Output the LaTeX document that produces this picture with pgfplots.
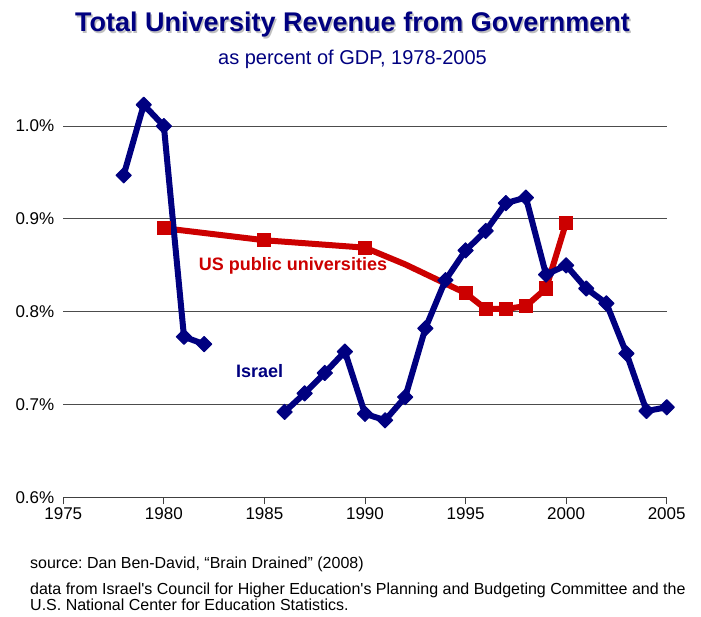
\documentclass[border=0pt]{standalone}
\usepackage{fontspec}
\setmainfont{Liberation Sans}
\usepackage{pgfplots}
\usepackage{pgfplotstable}
\pgfplotsset{compat=1.18}
\frenchspacing
\definecolor{navyb}{RGB}{0,0,128}
\definecolor{usred}{RGB}{204,0,0}
\pgfplotstableread{
year val
1978 0.947
1979 1.023
1980 1.000
1981 0.773
1982 0.765
1983 nan
1986 0.692
1987 0.712
1988 0.734
1989 0.757
1990 0.690
1991 0.683
1992 0.708
1993 0.782
1994 0.834
1995 0.866
1996 0.887
1997 0.917
1998 0.923
1999 0.840
2000 0.850
2001 0.825
2002 0.809
2003 0.755
2004 0.693
2005 0.697
}\israel
\pgfplotstableread{
year val
1980 0.890
1985 0.877
1990 0.869
1992 0.851
1995 0.820
1996 0.803
1997 0.803
1998 0.806
1999 0.825
2000 0.896
}\usline
\pgfplotstableread{
year val
1980 0.890
1985 0.877
1990 0.869
1995 0.820
1996 0.803
1997 0.803
1998 0.806
1999 0.825
2000 0.896
}\usmarks
\begin{document}
\begin{tikzpicture}
\path (-63.3pt,-118.7pt) rectangle (637.7pt,497.3pt);
\begin{axis}[
  at={(0pt,0pt)}, anchor=south west,
  scale only axis, width=603.4pt, height=417.6pt,
  xmin=1975, xmax=2005, ymin=0.6, ymax=1.05,
  clip=false,
  axis x line=bottom, axis y line=left,
  x axis line style={-, line width=1pt, black!75},
  y axis line style={draw=none},
  xtick={1975,1980,1985,1990,1995,2000,2005},
  xticklabels={1975,1980,1985,1990,1995,2000,2005},
  ytick={0.6,0.7,0.8,0.9,1.0},
  yticklabels={0.6\%,0.7\%,0.8\%,0.9\%,1.0\%},
  xtick align=outside,
  major tick length=7pt,
  xtick style={line width=1pt, black!75},
  ytick style={draw=none},
  ymajorgrids,
  major grid style={line width=1pt, black!70},
  tick label style={font=\fontsize{17}{17}\selectfont},
  yticklabel style={xshift=-2pt},
  unbounded coords=jump,
]
\addplot[usred, line width=6pt, line join=round] table[x=year,y=val]{\usline};
\addplot[usred, only marks, mark=square*, mark size=6.5pt, mark options={line width=1pt}] table[x=year,y=val]{\usmarks};
\addplot[navyb, line width=6pt, line join=round, mark=square*, mark size=5.4pt, mark options={line width=1pt, rotate=45}] table[x=year,y=val]{\israel};
\end{axis}
\node[anchor=base, inner sep=0, text=black!25] at (290.7pt,464.1pt) {\fontsize{27}{27}\selectfont\bfseries Total University Revenue from Government};
\node[anchor=base, inner sep=0, text=navyb] at (289.2pt,465.6pt) {\fontsize{27}{27}\selectfont\bfseries Total University Revenue from Government};
\node[anchor=base, inner sep=0, text=navyb] at (289.2pt,432.3pt) {\fontsize{20}{20}\selectfont as percent of GDP, 1978-2005};
\node[anchor=base, inner sep=0, text=usred] at (229.7pt,226.6pt) {\fontsize{18}{18}\selectfont\bfseries US public universities};
\node[anchor=base, inner sep=0, text=navyb] at (196.4pt,120pt) {\fontsize{18}{18}\selectfont\bfseries Israel};
\node[anchor=base west, inner sep=0] at (-33.3pt,-71pt) {\fontsize{16}{16}\selectfont source: Dan Ben-David, “Brain Drained” (2008)};
\node[anchor=base west, inner sep=0] at (-33.3pt,-97.3pt) {\fontsize{16}{16}\selectfont data from Israel\textquotesingle s Council for Higher Education\textquotesingle s Planning and Budgeting Committee and the};
\node[anchor=base west, inner sep=0] at (-33.3pt,-113.5pt) {\fontsize{16}{16}\selectfont U.S. National Center for Education Statistics.};
\end{tikzpicture}
\end{document}
